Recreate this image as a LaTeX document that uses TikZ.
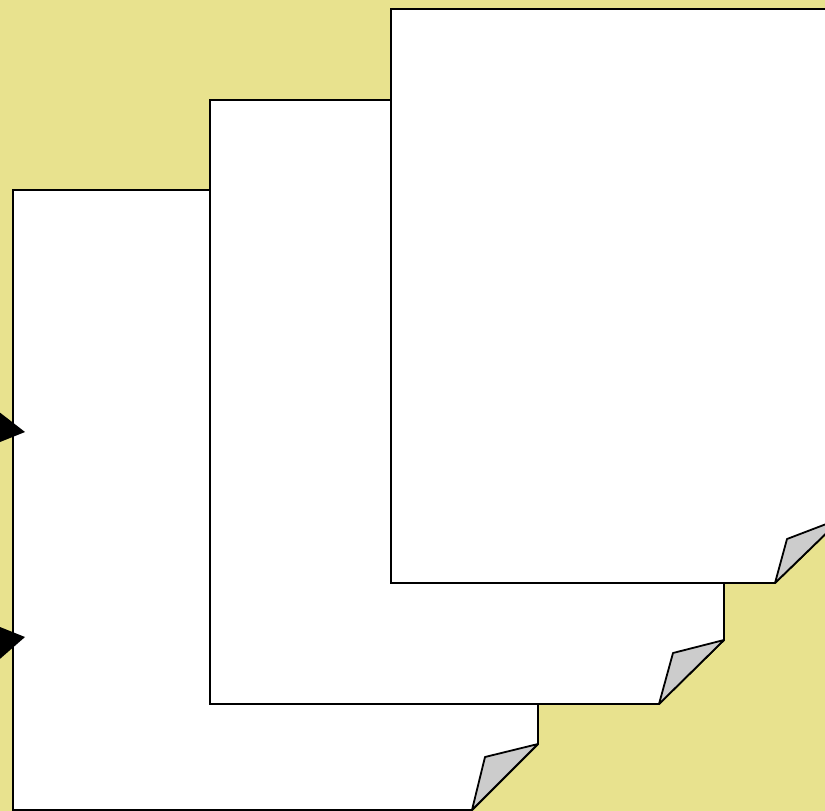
\documentclass[tikz,border=0pt]{standalone}
\definecolor{bgyellow}{RGB}{232,226,142}
\definecolor{foldgray}{RGB}{204,204,204}
\tikzset{
  pagebox/.style={fill=white,draw=black,line width=1.8pt,line join=miter},
  foldbox/.style={fill=foldgray,draw=black,line width=1.8pt,line join=round},
  tipshape/.style={fill=black,draw=none}
}
\begin{document}
\begin{tikzpicture}[x=1pt,y=-1pt]
\useasboundingbox (0,0) rectangle (825,811);
\clip (0,0) rectangle (825,811);
\fill[bgyellow] (0,0) rectangle (825,811);
% back page
\draw[pagebox] (13,190) -- (538,190) -- (538,744) -- (472,810) -- (13,810) -- cycle;
\draw[foldbox] (538,744) -- (485,757) -- (472,810) -- cycle;
% middle page
\draw[pagebox] (210,100) -- (724,100) -- (724,640) -- (659,704) -- (210,704) -- cycle;
\draw[foldbox] (724,640) -- (673,653) -- (659,704) -- cycle;
% front page
\draw[pagebox] (391,9) -- (842,9) -- (842,518) -- (775,583) -- (391,583) -- cycle;
\draw[foldbox] (842,518) -- (787,539) -- (775,583) -- cycle;
% arrow tips
\fill[tipshape] (25,432) -- (-15,401) -- (-8,430) -- (-15,448) -- cycle;
\fill[tipshape] (25,637) -- (-15,621) -- (-8,645) -- (-15,672) -- cycle;
\end{tikzpicture}
\end{document}
